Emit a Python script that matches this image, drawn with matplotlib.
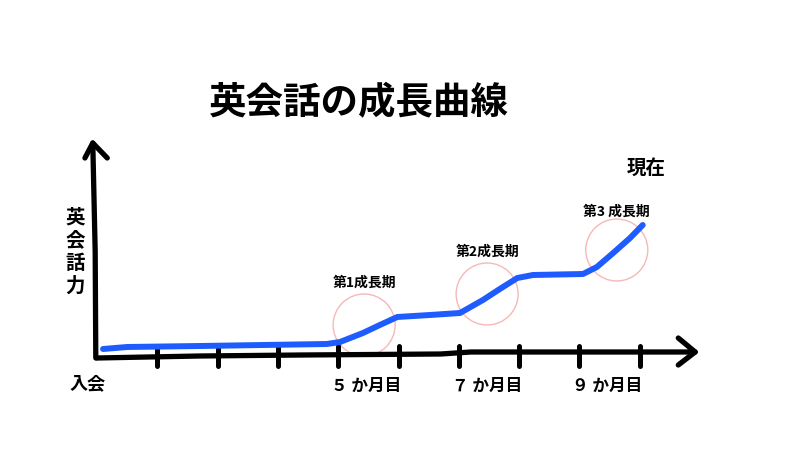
import matplotlib.pyplot as plt
from matplotlib.patches import Ellipse

plt.rcParams['font.family'] = ['Noto Sans CJK JP', 'DejaVu Sans']

# growth curve (x: months since joining, y: speaking level)
months = [0.10, 0.50, 1.71, 3.81, 4.03, 4.41, 4.69, 4.98, 5.52, 6.02,
          6.40, 6.68, 6.97, 7.23, 8.06, 8.29, 8.56, 8.84, 9.05]
level = [3, 5, 6, 8, 10, 19, 27, 35, 37, 39,
         52, 63, 74, 77, 78, 85, 99, 114, 127]

tick_months = [1, 2, 3, 4, 5, 6, 7, 8, 9]
label_months = [0, 5, 7, 9]
label_texts = ['入会', '５ か月目', '７ か月目', '９ か月目']

# growth phases: centre (month, level) and caption
phase_x = [4.43, 6.47, 8.62]
phase_y = [27, 58, 102]
phase_names = ['第1成長期', '第2成長期', '第3 成長期']
phase_label_y = [69, 100, 140]

BLUE = '#1f5cff'
PINK = '#f6b8b8'
PX = 60.3  # pixels per month

fig = plt.figure(figsize=(8, 4.5), dpi=100)
ax = fig.add_axes([0, 0, 1, 1])
ax.set_xlim(-97 / PX, (800 - 97) / PX)
ax.set_ylim(-98, 352)
ax.axis('off')

# hand drawn axes
ax.plot([0, 1.7, 3.4, 5.7, 6.2, 9.92], [-6, -4, -3, -2, 0, 0],
        color='black', lw=3.8, solid_capstyle='round', solid_joinstyle='round')
ax.plot([-0.02, -0.03, -0.07], [-6, 100, 209],
        color='black', lw=3.8, solid_capstyle='round')
ax.plot([-0.2, -0.07, 0.17], [194, 209, 194],
        color='black', lw=3.8, solid_capstyle='round', solid_joinstyle='round')
ax.plot([9.64, 9.92, 9.64], [14, 0, -13],
        color='black', lw=3.8, solid_capstyle='round', solid_joinstyle='round')
for m in tick_months:
    ax.plot([m, m], [6, -14], color='black', lw=3.6, solid_capstyle='round')

# phase circles
for cx, cy, name, ly in zip(phase_x, phase_y, phase_names, phase_label_y):
    ax.add_patch(Ellipse((cx, cy), 2 * 31 / PX, 62, fill=False,
                         edgecolor=PINK, lw=1.0))
    ax.text(cx, ly, name, fontsize=10, ha='center', va='center',
            fontweight='bold')

ax.plot(months, level, color=BLUE, lw=4.3, solid_capstyle='round',
        solid_joinstyle='round')

for m, t in zip(label_months, label_texts):
    if m == 0:
        ax.text(m - 0.15, -32, t, fontsize=13, ha='center', va='center',
                fontweight='bold')
    else:
        ax.text(m + 0.05, -34, t, fontsize=12, ha='right', va='center',
                fontweight='bold')

ax.text(-0.36, 100, '英\n会\n話\n力', fontsize=14, ha='center', va='center',
        fontweight='bold', linespacing=1.25)
ax.text(9.1, 184, '現在', fontsize=14, ha='center', va='center',
        fontweight='bold')
ax.text(4.35, 250, '英会話の成長曲線', fontsize=27, ha='center', va='center',
        fontweight='bold')

fig.savefig('out.png', dpi=100)
